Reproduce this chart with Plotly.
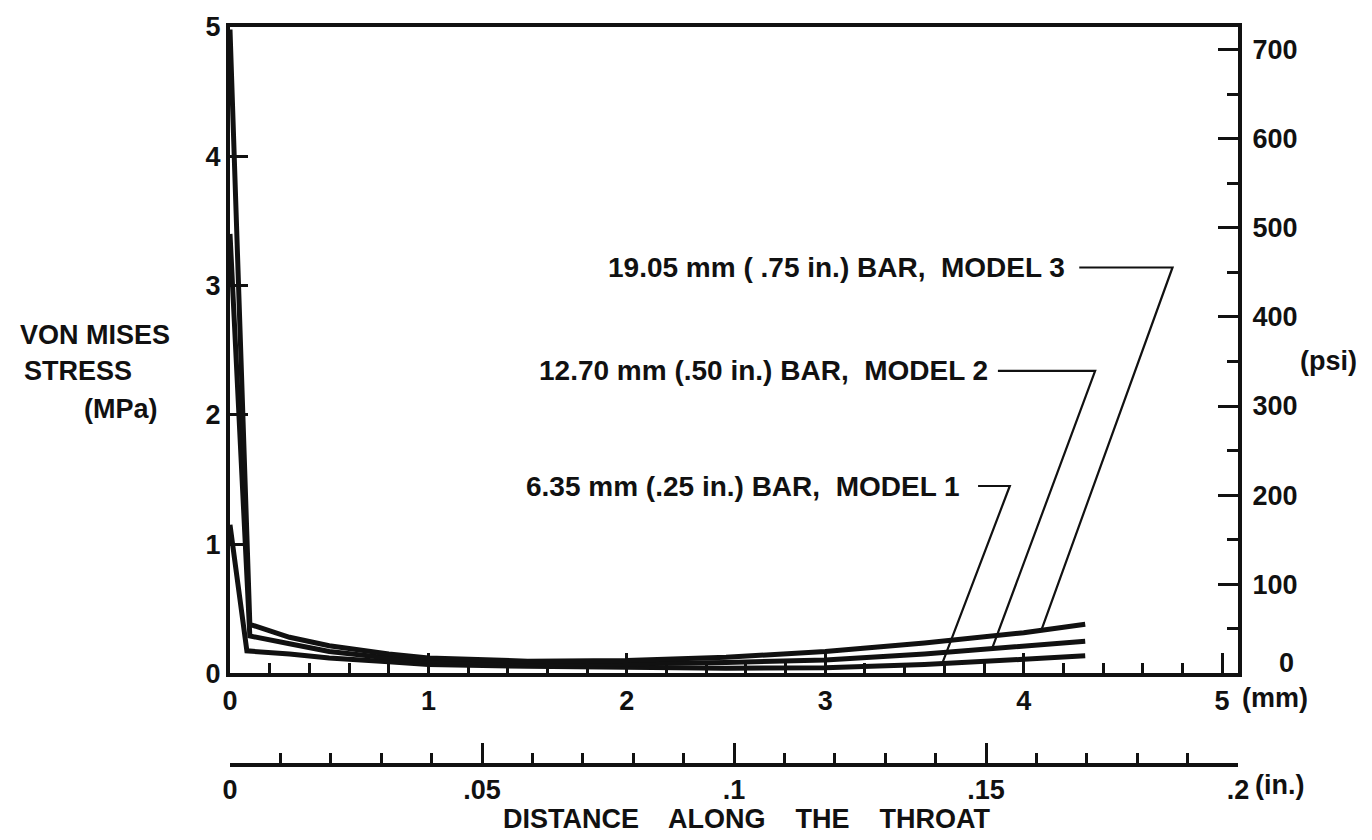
import plotly.graph_objects as go

# ---------------- data ----------------
dist_m3 = [0.0, 0.10, 0.30, 0.50, 0.80, 1.00, 1.50, 2.00, 2.50, 3.00, 3.50, 4.00, 4.31]
dist_m2 = [0.0, 0.10, 0.30, 0.50, 0.80, 1.00, 1.50, 2.00, 2.50, 3.00, 3.50, 4.00, 4.31]
dist_m1 = [0.0, 0.085, 0.30, 0.50, 0.80, 1.00, 1.50, 2.00, 2.50, 3.00, 3.50, 4.00, 4.31]

stress_m3 = [4.98, 0.38, 0.28, 0.215, 0.15, 0.12, 0.095, 0.10, 0.125, 0.17, 0.235, 0.315, 0.38]
stress_m2 = [3.40, 0.29, 0.23, 0.17, 0.12, 0.095, 0.075, 0.075, 0.085, 0.105, 0.15, 0.21, 0.25]
stress_m1 = [1.15, 0.175, 0.15, 0.12, 0.09, 0.07, 0.055, 0.045, 0.04, 0.045, 0.07, 0.11, 0.137]

NB = "\u00a0"
series_labels = [
    f"6.35 mm (.25 in.) BAR,{NB} MODEL 1",
    f"12.70 mm (.50 in.) BAR,{NB} MODEL 2",
    f"19.05 mm ( .75 in.) BAR,{NB} MODEL 3",
]

mm_ticks = [0, 1, 2, 3, 4, 5]
mm_ticktext = ["0", "1", "2", "3", "4", "5"]
mpa_ticks = [0, 1, 2, 3, 4, 5]
psi_ticks = [0, 100, 200, 300, 400, 500, 600, 700]
in_ticks = [0, 0.05, 0.10, 0.15, 0.20]
in_ticktext = ["0", ".05", ".1", ".15", ".2"]

MM_MAX = 5.08          # 0.2 in
MPA_MAX = 5.0
PSI_PER_MPA = 145.0377

# ---------------- layout geometry ----------------
W, H = 1372, 840
ML, MR, MT, MB = 230, 134, 20, 20
PLOT_BOTTOM_PX = 678
PAPER_H = H - MT - MB
IN_AXIS_PX = 771


def py(px):
    return (H - MB - px) / PAPER_H


def pxx(px):
    return (px - ML) / (W - ML - MR)


FONT = "Liberation Sans"
BLACK = "#111111"
FS = 27
FIG = "\u2007"  # figure space, digit-wide: right-aligns the psi labels


def pad3(v):
    s = str(v)
    return FIG * (3 - len(s)) + s


fig = go.Figure()

for xs, ys, name in [(dist_m1, stress_m1, series_labels[0]),
                     (dist_m2, stress_m2, series_labels[1]),
                     (dist_m3, stress_m3, series_labels[2])]:
    fig.add_trace(go.Scatter(x=xs, y=ys, mode="lines", name=name,
                             line=dict(color=BLACK, width=5),
                             showlegend=False, hoverinfo="skip"))

# invisible traces to activate the secondary axes
fig.add_trace(go.Scatter(x=[0], y=[0], yaxis="y2", mode="markers",
                         marker=dict(opacity=0), showlegend=False, hoverinfo="skip"))
fig.add_trace(go.Scatter(x=[0], y=[0], xaxis="x2", mode="markers",
                         marker=dict(opacity=0), showlegend=False, hoverinfo="skip"))

tickfont = dict(family=FONT, size=FS, color=BLACK, weight="bold")
ydom0 = py(PLOT_BOTTOM_PX)

psi_text = [("" if v == 0 else pad3(v)) for v in psi_ticks]

fig.update_layout(
    width=W, height=H,
    margin=dict(l=ML, r=MR, t=MT, b=MB),
    paper_bgcolor="white", plot_bgcolor="white",
    xaxis=dict(range=[0, MM_MAX], tickvals=mm_ticks, ticktext=mm_ticktext,
               ticks="inside", ticklen=20, tickwidth=3, tickcolor=BLACK,
               minor=dict(dtick=0.2, tick0=0, ticks="inside", ticklen=10,
                          tickwidth=3, tickcolor=BLACK),
               showline=True, linewidth=4, linecolor=BLACK, mirror=True,
               showgrid=False, zeroline=False, tickfont=tickfont,
               anchor="y"),
    yaxis=dict(range=[0, MPA_MAX], tickvals=mpa_ticks, domain=[ydom0, 1],
               ticks="inside", ticklen=18, tickwidth=3, tickcolor=BLACK,
               showline=True, linewidth=4, linecolor=BLACK, mirror=True,
               showgrid=False, zeroline=False, tickfont=tickfont),
    yaxis2=dict(range=[0, MPA_MAX * PSI_PER_MPA], tickvals=psi_ticks, ticktext=psi_text,
                overlaying="y", side="right", anchor="x",
                ticks="inside", ticklen=20, tickwidth=3, tickcolor=BLACK,
                minor=dict(dtick=50, tick0=0, ticks="inside", ticklen=11,
                           tickwidth=3, tickcolor=BLACK),
                showline=True, linewidth=4, linecolor=BLACK,
                ticklabelstandoff=5,
                showgrid=False, zeroline=False, tickfont=tickfont),
    xaxis2=dict(range=[0, 0.2], tickvals=in_ticks, ticktext=in_ticktext,
                overlaying="x", anchor="free", position=py(IN_AXIS_PX), side="bottom",
                ticks="inside", ticklen=20, tickwidth=3, tickcolor=BLACK,
                minor=dict(dtick=0.01, tick0=0, ticks="inside", ticklen=10,
                           tickwidth=3, tickcolor=BLACK),
                showline=True, linewidth=4, linecolor=BLACK,
                showgrid=False, zeroline=False, tickfont=tickfont),
)

ann_font = dict(family=FONT, size=FS, color=BLACK, weight="bold")
gap = NB * 3 + " "
annotations = [
    dict(text="VON MISES", x=pxx(18), y=py(333), xanchor="left"),
    dict(text="STRESS", x=pxx(22), y=py(370), xanchor="left"),
    dict(text="(MPa)", x=pxx(82), y=py(409), xanchor="left"),
    dict(text="(psi)", x=pxx(1298), y=py(360), xanchor="left"),
    dict(text="0", x=pxx(1296), y=py(667), xanchor="right"),
    dict(text="(mm)", x=pxx(1240), y=py(703), xanchor="left"),
    dict(text="(in.)", x=pxx(1253), y=py(792), xanchor="left"),
    dict(text=f"DISTANCE{gap}ALONG{gap}THE{gap}THROAT", x=pxx(746), y=py(826),
         xanchor="center"),
]
for a in annotations:
    fig.add_annotation(xref="paper", yref="paper", yanchor="middle",
                       showarrow=False, font=ann_font, **a)

# curve labels with leader lines (data coordinates)
label_fs = 28
label_specs = [
    # text, text end x (mm), y (MPa), line start x, line end x, curve-touch x, curve-touch y
    (series_labels[2], 4.22, 3.14, 4.28, 4.75, 4.09, 0.34),
    (series_labels[1], 3.83, 2.34, 3.87, 4.36, 3.84, 0.19),
    (series_labels[0], 3.69, 1.45, 3.77, 3.93, 3.59, 0.08),
]
for text, tx, ty, lx0, lx1, cx, cy in label_specs:
    fig.add_annotation(xref="x", yref="y", x=tx, y=ty, text=text,
                       xanchor="right", yanchor="middle", showarrow=False,
                       font=dict(family=FONT, size=label_fs, color=BLACK, weight="bold"))
    fig.add_shape(type="path", xref="x", yref="y",
                  path=f"M {lx0},{ty} L {lx1},{ty} L {cx},{cy}",
                  line=dict(color=BLACK, width=2.2))

fig.write_html("out.html",
               config={"displayModeBar": False},
               post_script="document.body.style.margin='0';document.body.style.overflow='hidden';")
